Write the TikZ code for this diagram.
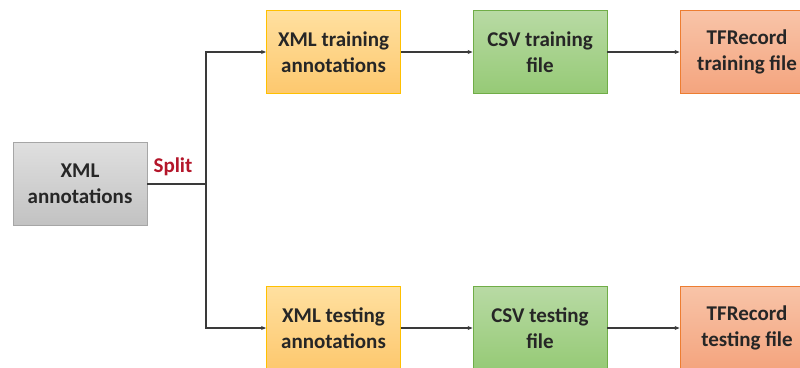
\documentclass[tikz,border=0pt]{standalone}
\usepackage{fontspec}
\setmainfont{Carlito}
\usetikzlibrary{arrows.meta}
\definecolor{txt}{HTML}{262626}
\definecolor{splitred}{HTML}{B4162A}
\definecolor{conn}{HTML}{3A3A3A}
\tikzset{
  box/.style={draw, line width=0.8pt, minimum width=134pt, minimum height=83pt,
    align=center, text=txt, font=\fontsize{21}{25.5}\selectfont\bfseries},
  graybox/.style={box, draw=gray!70, top color=gray!25, bottom color=gray!48},
  yellowbox/.style={box, draw={rgb,255:red,255;green,192;blue,0}, top color={rgb,255:red,255;green,224;blue,160}, bottom color={rgb,255:red,253;green,200;blue,110}},
  greenbox/.style={box, draw={rgb,255:red,112;green,173;blue,71}, top color={rgb,255:red,184;green,218;blue,164}, bottom color={rgb,255:red,150;green,202;blue,118}},
  orangebox/.style={box, draw={rgb,255:red,237;green,125;blue,49}, top color={rgb,255:red,248;green,196;blue,168}, bottom color={rgb,255:red,244;green,164;blue,126}},
  conline/.style={draw=conn, line width=1.1pt},
  arr/.style={conline, -{Stealth[length=5pt,width=4pt]}}
}
\begin{document}
\begin{tikzpicture}[x=1pt,y=-1pt]
\useasboundingbox (0,0) rectangle (800,367);
% source
\node[graybox] (src) at (80,184) {XML\\annotations};
% training branch
\node[yellowbox] (xtr) at (333.5,52) {XML training\\annotations};
\node[greenbox]  (ctr) at (540,52)   {CSV training\\file};
\node[orangebox] (ttr) at (747,52)   {TFRecord\\training file};
% testing branch
\node[yellowbox] (xte) at (333.5,328) {XML testing\\annotations};
\node[greenbox]  (cte) at (540,328)   {CSV testing\\file};
\node[orangebox] (tte) at (747,328)   {TFRecord\\testing file};
% split junction
\coordinate (jn) at (206,184);
\draw[conline] (src.east) -- (jn);
\node[text=splitred, font=\fontsize{21}{25}\selectfont\bfseries] (lbl) at (173,167) {Split};
\draw[arr] (jn) |- (xtr.west);
\draw[arr] (jn) |- (xte.west);
% conversions
\draw[arr] (xtr) -- (ctr);
\draw[arr] (ctr) -- (ttr);
\draw[arr] (xte) -- (cte);
\draw[arr] (cte) -- (tte);
\end{tikzpicture}
\end{document}
